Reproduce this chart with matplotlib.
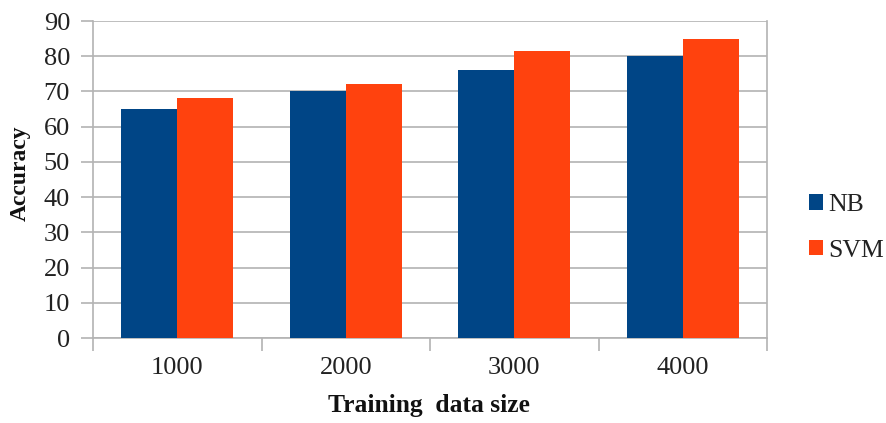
import matplotlib
matplotlib.use("Agg")
import matplotlib.pyplot as plt
import numpy as np
from matplotlib.patches import Patch

plt.rcParams['font.family'] = ['Liberation Serif', 'DejaVu Serif']

# Data
sizes = ["1000", "2000", "3000", "4000"]
nb_acc = [65, 70, 76, 80]
svm_acc = [68, 72, 81.5, 85]
series_names = ["NB", "SVM"]
y_ticks = [0, 10, 20, 30, 40, 50, 60, 70, 80, 90]

nb_color = "#004586"
svm_color = "#ff420e"
grid_color = "#b3b3b3"
text_color = "#222222"

fig = plt.figure(figsize=(8.86, 4.23), dpi=100)
ax = fig.add_axes([93 / 886, 1 - 338 / 423, (767 - 93) / 886, (338 - 21) / 423])

x = np.arange(len(sizes))
w = 1 / 3
ax.bar(x - w / 2, nb_acc, width=w, color=nb_color, zorder=3)
ax.bar(x + w / 2, svm_acc, width=w, color=svm_color, zorder=3)

ax.set_xlim(-0.5, len(sizes) - 0.5)
ax.set_ylim(0, 90)
ax.set_yticks(y_ticks)
ax.yaxis.grid(True, color=grid_color, linewidth=1.2, zorder=0)

# Category boundaries carry the tick marks; labels sit at the centres
ax.set_xticks(np.arange(len(sizes) + 1) - 0.5)
ax.set_xticklabels([])
ax.set_xticks(x, minor=True)
ax.set_xticklabels(sizes, minor=True)
ax.tick_params(axis='x', which='major', length=9, width=1.2, color=grid_color, direction='out')
ax.tick_params(axis='x', which='minor', length=0, pad=14, labelsize=19, labelcolor=text_color)
ax.tick_params(axis='y', length=9, width=1.2, color=grid_color, pad=7.5, labelsize=19,
               labelcolor=text_color)

for side in ['left', 'bottom', 'right']:
    ax.spines[side].set_color(grid_color)
    ax.spines[side].set_linewidth(1.2)
ax.spines['top'].set_visible(False)

fig.text(429 / 886, 1 - 405 / 423, "Training  data size", ha='center', va='center',
         fontsize=18.4, fontweight='bold', color='#111111')
fig.text(20 / 886, 1 - 173 / 423, "Accuracy", ha='center', va='center', rotation=90,
         fontsize=17, fontweight='bold', color='#111111')

handles = [Patch(facecolor=nb_color), Patch(facecolor=svm_color)]
fig.legend(handles, series_names, loc='center left', bbox_to_anchor=(809 / 886, 1 - 228 / 423),
           frameon=False, fontsize=18.5, handlelength=0.55, handleheight=0.55,
           handletextpad=0.2, labelspacing=0.92, borderaxespad=0, borderpad=0,
           labelcolor=text_color)

fig.savefig("out.png", dpi=100)
